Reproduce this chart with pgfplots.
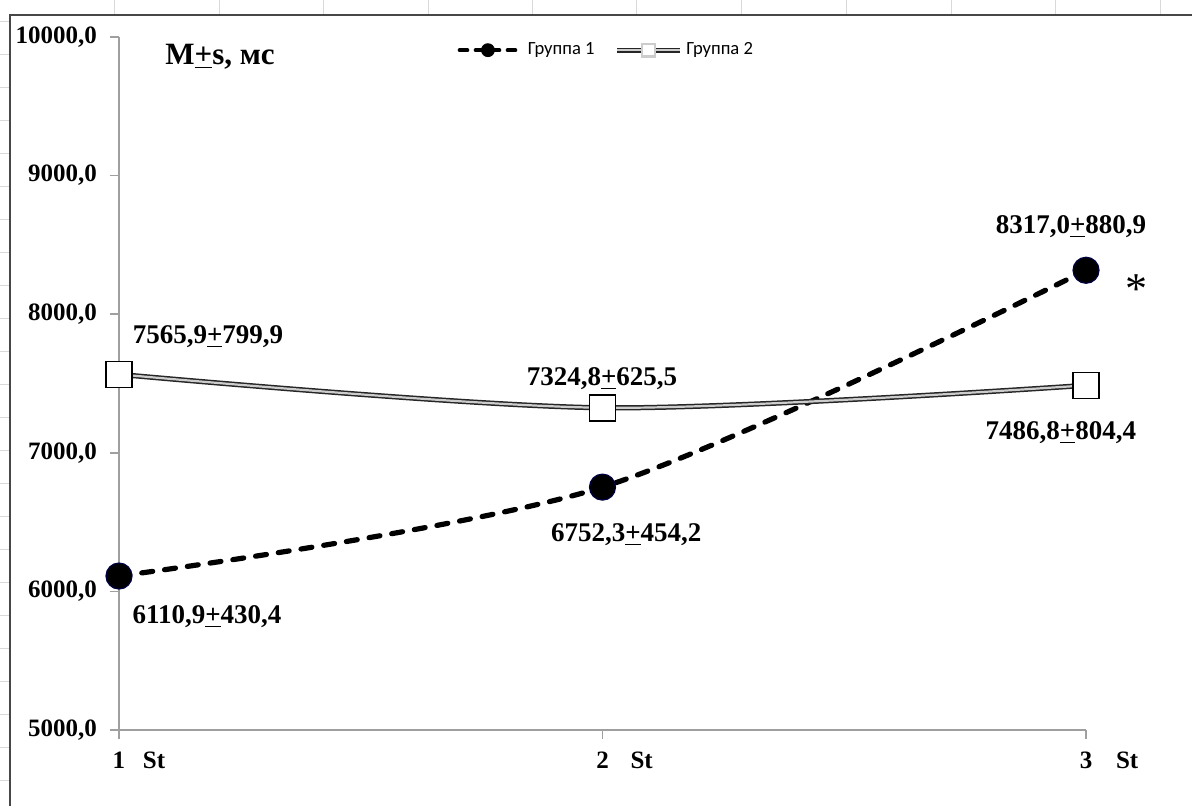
\documentclass[border=0pt]{standalone}
\usepackage{pgfplots}
\pgfplotsset{compat=1.18}
\usepackage{fontspec}
\setmainfont{Liberation Serif}
\newfontfamily\legfont{Carlito}
\newcommand{\lab}{\fontsize{13.5}{16}\selectfont\bfseries}
\begin{document}
\begin{tikzpicture}
\useasboundingbox (-59.5pt,-38pt) rectangle (536.5pt,365pt);
\foreach \x in {114,219,323,428,532,636,741,846,951,1055,1160}
  \draw[gray!30,line width=0.5pt] ({(\x-119)*0.5pt},365pt) -- ++(0,-7.5pt);
\foreach \y in {22,55,...,800}
  \draw[gray!30,line width=0.5pt] (-59.5pt,{(730-\y)*0.5pt}) -- ++(5pt,0);
\draw[line width=1.2pt, black!72] (-54.5pt,-45pt) -- (-54.5pt,357.5pt) -- (545pt,357.5pt);
\begin{axis}[
  at={(0,0)}, anchor=south west,
  scale only axis, width=483.5pt, height=346.5pt,
  xmin=1, xmax=3, ymin=5000, ymax=10000,
  clip=false, scaled y ticks=false,
  axis x line=bottom, axis y line=left,
  axis line style={-, gray!75, line width=0.8pt},
  tick style={gray!75, line width=0.8pt},
  tick align=outside, major tick length=4.5pt,
  xtick={1,2,3},
  xticklabels={{\makebox[0pt]{1}\rlap{\hspace{12pt}St}},{\makebox[0pt]{2}\rlap{\hspace{14pt}St}},{\makebox[0pt]{3}\rlap{\hspace{15pt}St}}},
  ytick={5000,6000,7000,8000,9000,10000},
  yticklabels={{5000,0},{6000,0},{7000,0},{8000,0},{9000,0},{10000,0}},
  ticklabel style={font=\fontsize{12.5}{14}\selectfont\bfseries},
  yticklabel style={xshift=-3pt},
  xticklabel style={yshift=-3pt},
  legend style={at={(rel axis cs:0.505,0.981)}, anchor=center, draw=none, fill=none,
    font=\legfont\fontsize{9.3}{10}\selectfont, legend columns=2,
    /tikz/every even column/.append style={column sep=8pt}},
  legend cell align=left,
]
\addplot[black, line width=2.6pt, dash pattern=on 5.5pt off 6pt, line cap=round, smooth,
  mark=*, mark size=6.5pt, mark options={solid, fill=black, draw=blue!25!black, line width=0.6pt},
  legend image code/.code={\draw[line width=1.8pt, dash pattern=on 4pt off 4pt] (0cm,0cm) -- (1.1cm,0cm);\draw[solid,fill=black,line width=0.5pt] (0.5cm,0cm) circle (3.2pt);}]
  coordinates {(1,6110.9) (2,6752.3) (3,8317.0)};
\addlegendentry{Группа 1}
\addplot[black!85, line width=2.6pt, smooth, postaction={draw, gray!40, line width=1.1pt},
  mark=square*, mark size=6.5pt, mark options={solid, fill=white, draw=black, line width=0.8pt},
  legend image code/.code={\draw[line width=2.6pt, black!85, postaction={draw, gray!40, line width=1.1pt}] (0cm,0cm) -- (1.1cm,0cm);\draw[fill=white, draw=black, line width=0.7pt] (0.43cm,-3.2pt) rectangle (0.67cm,3.2pt);}]
  coordinates {(1,7565.9) (2,7324.8) (3,7486.8)};
\addlegendentry{Группа 2}
\node[font=\lab] at (axis cs:1.184,7835) {7565,9\underline{+}799,9};
\node[font=\lab] at (axis cs:1.999,7532) {7324,8\underline{+}625,5};
\node[font=\lab] at (axis cs:2.948,7143) {7486,8\underline{+}804,4};
\node[font=\lab] at (axis cs:2.049,6407) {6752,3\underline{+}454,2};
\node[font=\lab] at (axis cs:1.182,5815) {6110,9\underline{+}430,4};
\node[font=\lab] at (axis cs:2.969,8629) {8317,0\underline{+}880,9};
\node[font=\fontsize{22}{24}\selectfont] at (axis cs:3.105,8180) {*};
\node[font=\fontsize{15.5}{17}\selectfont\bfseries] at (axis cs:1.209,9856) {M\underline{+}s, мс};
\end{axis}
\end{tikzpicture}
\end{document}
